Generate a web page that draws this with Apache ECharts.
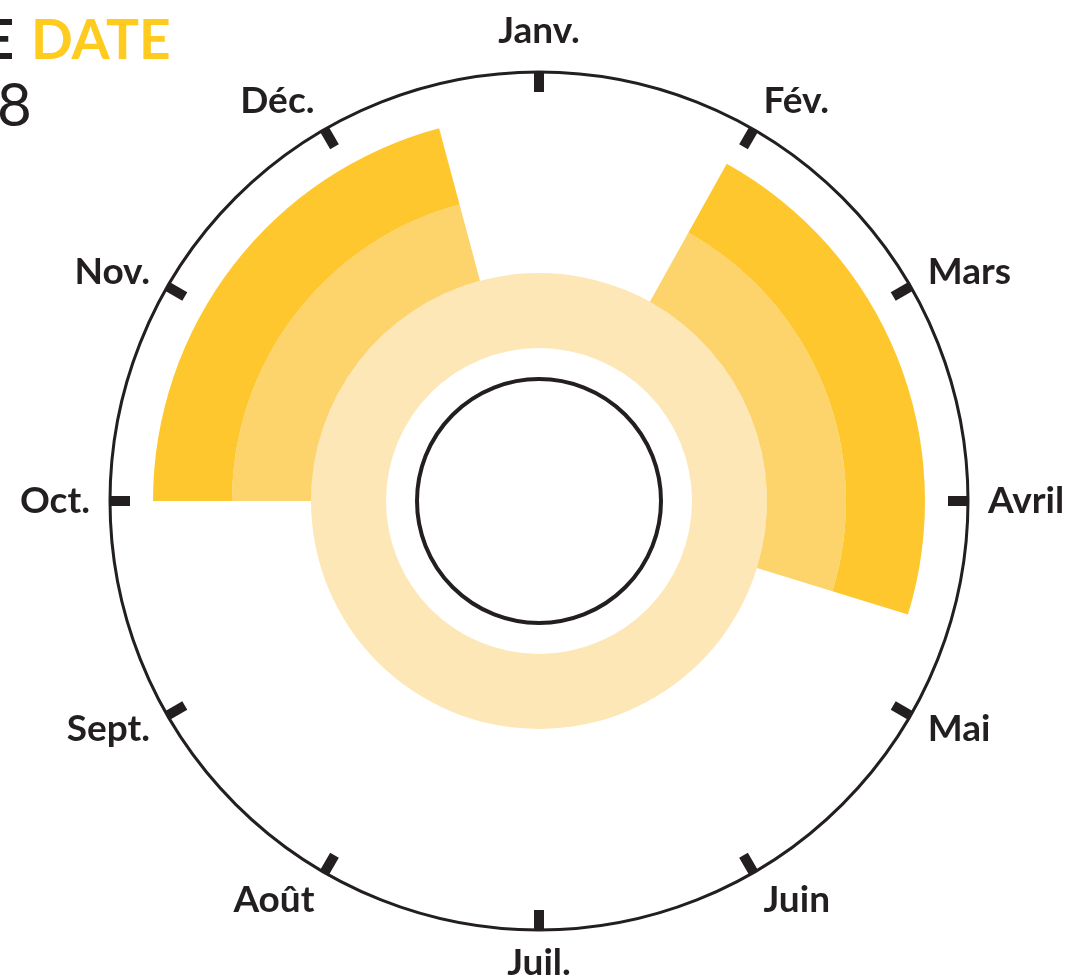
<!DOCTYPE html>
<html>
<head>
<meta charset="utf-8">
<script src="https://cdn.jsdelivr.net/npm/echarts@6/dist/echarts.min.js"></script>
<style>
html,body{margin:0;padding:0;background:#fff;}
#main{width:1073px;height:979px;}
</style>
</head>
<body>
<div id="main"></div>
<script>
// ---- data ----
const months = ['Janv.', 'Fév.', 'Mars', 'Avril', 'Mai', 'Juin', 'Juil.', 'Août', 'Sept.', 'Oct.', 'Nov.', 'Déc.'];
// periods in months from Jan 1 (0) to Dec 31 (12)
const periodStarts = [0.97, 9.0];
const periodEnds = [3.57, 11.5];
const yearLength = 12;
const titleLead = 'E';
const titleHighlight = 'DATE';
const titleYear = '8';

// ---- styles ----
const ink = '#231F20';
const palest = '#FDE7B6';
const middle = '#FDD36B';
const strong = '#FEC72E';
const cx = 539, cy = 501;
// per-label line heights (fine vertical placement of the month labels)
const labelLineHeights = [42, 22, 9, 36, 8, 20, 27, 20, 8, 36, 9, 22];

function stackedPeriods(starts, ends) {
  const out = [];
  let pos = 0;
  for (let i = 0; i < starts.length; i++) {
    out.push({ gap: true, v: starts[i] - pos });
    out.push({ gap: false, v: ends[i] - starts[i] });
    pos = ends[i];
  }
  return out;
}

const rich = {};
labelLineHeights.forEach((lh, i) => {
  rich['m' + i] = { color: ink, fontFamily: 'Lato', fontWeight: 'bold', fontSize: 37, lineHeight: lh };
});

const polars = [
  { center: [cx, cy], radius: [0, 429] },
  { center: [cx, cy], radius: [153, 228] },
  { center: [cx, cy], radius: [228, 307] },
  { center: [cx, cy], radius: [307, 386] },
  { center: [cx, cy], radius: [0, 122] }
];

const angleAxes = [
  {
    polarIndex: 0, type: 'value', min: 0, max: yearLength, interval: 1, startAngle: 90, clockwise: true,
    axisLine: { show: true, lineStyle: { color: ink, width: 3 } },
    axisTick: { show: true, inside: true, length: 20, lineStyle: { color: ink, width: 10 } },
    axisLabel: {
      show: true, margin: 20, hideOverlap: false, color: ink, fontFamily: 'Lato', fontWeight: 'bold', fontSize: 37,
      formatter: function (v) {
        const i = Math.round(v);
        if (i < 0 || i >= months.length) return '';
        return '{m' + i + '|' + months[i] + '}';
      },
      rich: rich
    },
    splitLine: { show: false }
  }
];
const radiusAxes = [
  { polarIndex: 0, type: 'value', show: false, axisLine: { show: false }, splitLine: { show: false }, axisLabel: { show: false }, axisTick: { show: false } }
];
for (let i = 1; i <= 4; i++) {
  angleAxes.push({
    polarIndex: i, type: 'value', min: 0, max: yearLength, startAngle: 90, clockwise: true,
    axisLine: { show: i === 4, lineStyle: { color: ink, width: 4 } },
    axisTick: { show: false }, axisLabel: { show: false }, splitLine: { show: false }
  });
  radiusAxes.push({
    polarIndex: i, type: 'category', data: ['r'],
    axisLine: { show: false }, axisTick: { show: false }, axisLabel: { show: false }, splitLine: { show: false }
  });
}

const series = [];
series.push({
  type: 'bar', coordinateSystem: 'polar', polarIndex: 1, stack: 'ring1',
  barWidth: '100%', data: [yearLength], itemStyle: { color: palest }, silent: true
});
[[2, middle], [3, strong]].forEach(([pi, col]) => {
  stackedPeriods(periodStarts, periodEnds).forEach((seg) => {
    series.push({
      type: 'bar', coordinateSystem: 'polar', polarIndex: pi, stack: 'ring' + pi,
      barWidth: '100%', data: [seg.v], silent: true,
      itemStyle: { color: seg.gap ? 'rgba(0,0,0,0)' : col }
    });
  });
});

const chart = echarts.init(document.getElementById('main'), null, { renderer: 'canvas' });
chart.setOption({
  backgroundColor: '#ffffff',
  animation: false,
  polar: polars,
  angleAxis: angleAxes,
  radiusAxis: radiusAxes,
  series: series,
  graphic: [
    { type: 'text', x: 14, y: 41, style: { text: titleLead, fill: ink, font: 'bold 55px Lato', textAlign: 'right', textVerticalAlign: 'middle' } },
    { type: 'text', x: 31, y: 41, style: { text: titleHighlight, fill: '#FFCB1F', font: 'bold 55px Lato', textAlign: 'left', textVerticalAlign: 'middle' } },
    { type: 'text', x: -3, y: 107, style: { text: titleYear, fill: ink, font: 'normal 60px Lato', textAlign: 'left', textVerticalAlign: 'middle' } }
  ]
});
</script>
</body>
</html>
